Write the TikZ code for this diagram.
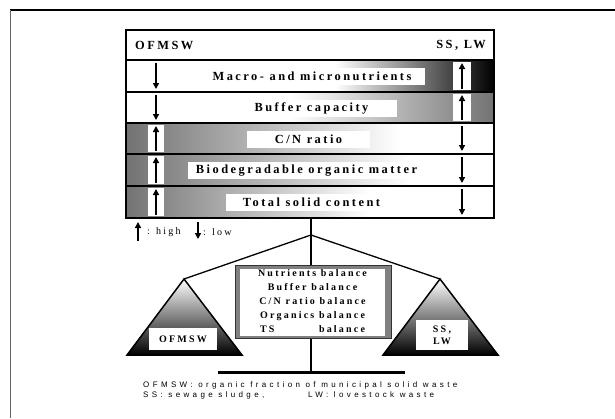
\documentclass[tikz,border=0pt]{standalone}
\usepackage{fontspec}
\setmainfont{Liberation Serif}
\newfontfamily\rowfont[LetterSpace=20]{Liberation Serif}
\newfontfamily\mixfont[LetterSpace=22]{Liberation Serif}
\newfontfamily\capfont[LetterSpace=42]{Liberation Sans}
\usetikzlibrary{arrows.meta}
\tikzset{
  rule/.style={line width=1.5pt},
  tag/.style={fill=white, inner sep=0pt, minimum height=17pt,
    font=\rowfont\bfseries\fontsize{12.4}{14}\selectfont},
  head/.style={inner sep=0pt, font=\rowfont\bfseries\fontsize{12.4}{14}\selectfont},
  trend/.style={line width=1.8pt, -{Triangle[length=6pt,width=6pt]}},
  pan/.style={line width=1.5pt},
  pantag/.style={fill=white, inner sep=0pt, align=center,
    font=\mixfont\bfseries\fontsize{10}{12}\selectfont},
  note/.style={inner sep=0pt, anchor=west, font=\capfont\fontsize{8}{10}\selectfont},
}
\begin{document}
\begin{tikzpicture}[x=1pt,y=-1pt]
\useasboundingbox (0,0) rectangle (615,418);
\fill[white] (0,0) rectangle (615,418);
% page frame
\draw[line width=1.2pt] (10,10) -- (615,10);
\draw[line width=1.6pt, black!60] (10.5,10) -- (10.5,418);

% table background and row shadings
\fill[white] (126,30) rectangle (494,218);
\shade[left color=white, right color=black] (335,60) rectangle (494,92);
\shade[left color=white, right color=black!55] (290,92) rectangle (494,123);
\shade[left color=black!55, right color=white] (126,123) rectangle (400,154);
\shade[left color=black!55, right color=white] (126,154) rectangle (410,186);
\shade[left color=black!55, right color=white] (126,186) rectangle (370,218);

% white strips behind the trend arrows
\foreach \i/\t/\b in {1/60/92,2/92/123,3/123/154,4/154/186,5/186/218}{
  \fill[white] (148,\t+2) rectangle (164,\b-2);
  \fill[white] (453,\t+2) rectangle (471,\b-2);
  \coordinate (lt\i) at (156,\t+3);
  \coordinate (lb\i) at (156,\b-3);
  \coordinate (rt\i) at (462,\t+3);
  \coordinate (rb\i) at (462,\b-3);
}

% table frame and row rules
\draw[line width=1.8pt] (126,30) rectangle (494,218);
\foreach \y in {60,92,123,154,186}{
  \draw[rule] (126,\y) -- (494,\y);
}

% headers
\node[head, anchor=west] (hl) at (135,45) {OFMSW};
\node[head, anchor=east] (hr) at (486,45) {SS, LW};

% row labels
\node[tag, minimum width=226pt] (r1) at (312,76.5) {Macro- and micronutrients};
\node[tag, minimum width=171pt] (r2) at (311.5,108.5) {Buffer capacity};
\node[tag, minimum width=123pt] (r3) at (308.5,139) {C/N ratio};
\node[tag, minimum width=237pt] (r4) at (306.5,170.5) {Biodegradable organic matter};
\node[tag, minimum width=171pt] (r5) at (311.5,202.5) {Total solid content};

% trend arrows
\draw[trend] (lt1) -- (lb1);
\draw[trend] (lt2) -- (lb2);
\draw[trend] (lb3) -- (lt3);
\draw[trend] (lb4) -- (lt4);
\draw[trend] (lb5) -- (lt5);
\draw[trend] (rb1) -- (rt1);
\draw[trend] (rb2) -- (rt2);
\draw[trend] (rt3) -- (rb3);
\draw[trend] (rt4) -- (rb4);
\draw[trend] (rt5) -- (rb5);

% legend
\coordinate (hiB) at (138,241);
\coordinate (hiT) at (138,222);
\coordinate (loT) at (198,222);
\coordinate (loB) at (198,239);
\draw[trend] (hiB) -- (hiT);
\draw[trend] (loT) -- (loB);
\node[inner sep=0pt, anchor=west, font=\mixfont\fontsize{10}{12}\selectfont] (hi) at (147,232) {: high};
\node[inner sep=0pt, anchor=west, font=\mixfont\fontsize{10}{12}\selectfont] (lo) at (203,232) {: low};

% balance
\coordinate (tablebase) at (311,218);
\coordinate (apex) at (311,235);
\coordinate (foot) at (311,372);
\coordinate (baseL) at (218,372);
\coordinate (baseR) at (405,372);
\coordinate (lpan) at (184,279);
\coordinate (rpan) at (440,279);
\coordinate (lpanL) at (127,355);
\coordinate (lpanR) at (242,355);
\coordinate (rpanL) at (383,355);
\coordinate (rpanR) at (498,355);
\draw[pan] (tablebase) -- (foot);
\draw[line width=3pt] (baseL) -- (baseR);
\draw[line width=1.3pt] (lpan) -- (apex) -- (rpan);
\shade[top color=white, bottom color=black] (lpan) -- (lpanL) -- (lpanR) -- cycle;
\draw[pan, line join=miter] (lpan) -- (lpanL) -- (lpanR) -- cycle;
\shade[top color=white, bottom color=black] (rpan) -- (rpanL) -- (rpanR) -- cycle;
\draw[pan, line join=miter] (rpan) -- (rpanL) -- (rpanR) -- cycle;
\node[pantag, minimum width=68pt, minimum height=22pt] (lw) at (183,339) {OFMSW};
\node[pantag, minimum width=52pt, minimum height=30pt] (rw) at (442,335) {SS,\\LW};

% mixture box
\fill[black!50] (235,265) rectangle (391,338);
\draw[black!80, line width=0.6pt] (235,265) rectangle (391,338);
\node[fill=white, inner sep=0pt, minimum width=145pt, minimum height=67pt,
  align=center, font=\mixfont\bfseries\fontsize{10}{14}\selectfont] (mix) at (312.5,302.5)
  {Nutrients balance\\Buffer balance\\C/N ratio balance\\Organics balance\\
   \rlap{TS}\phantom{Organics} balance};

% notes
\node[note] (n1) at (143,385) {OFMSW: organic fraction of municipal solid waste};
\node[note] (n2) at (143,395) {SS: sewage sludge,};
\node[note] (n3) at (308,395) {LW: lovestock waste};
\end{tikzpicture}
\end{document}
